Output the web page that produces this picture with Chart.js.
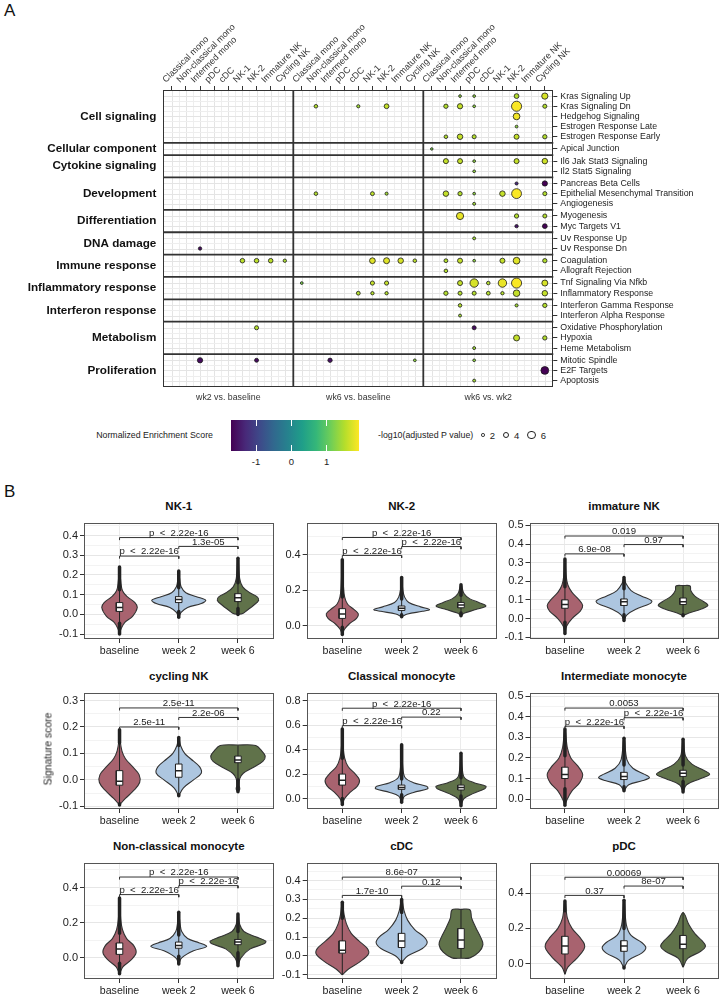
<!DOCTYPE html>
<html>
<head>
<meta charset="utf-8">
<script src="https://cdn.jsdelivr.net/npm/chart.js@4.4.1/dist/chart.umd.min.js"></script>
<style>
  body { margin: 0; background: #fff; }
  #fig { position: relative; width: 720px; height: 999px; overflow: hidden; background: #fff;
         font-family: 'Liberation Sans', Arial, Helvetica, sans-serif; color: #111; }
  canvas { position: absolute; }
  .tag { position: absolute; left: 4px; font-size: 17px; }
  .ttl { position: absolute; font-weight: bold; font-size: 11.5px; transform: translateX(-50%); white-space: nowrap; }
  .lg { position: absolute; font-size: 8.8px; color: #222; white-space: nowrap; }
</style>
</head>
<body>
<div id="fig">
  <div class="tag" style="top:1px">A</div>
  <div class="tag" style="top:482px">B</div>
  <canvas id="panelA" width="720" height="410" style="left:0;top:0"></canvas>
  <div id="legendA"></div>
</div>
<script>
// ---------------- panel A data ----------------
const comparisons = ['wk2 vs. baseline', 'wk6 vs. baseline', 'wk6 vs. wk2'];
const cellTypes = ['Classical mono', 'Non-classical mono', 'Intermed mono', 'pDC', 'cDC',
                   'NK-1', 'NK-2', 'Immature NK', 'Cycling NK'];
const categories = ['Cell signaling', 'Cellular component', 'Cytokine signaling', 'Development',
                    'Differentiation', 'DNA damage', 'Immune response', 'Inflammatory response',
                    'Interferon response', 'Metabolism', 'Proliferation'];
const pathways = [
  ['Kras Signaling Up', 'Kras Signaling Dn', 'Hedgehog Signaling', 'Estrogen Response Late', 'Estrogen Response Early'],
  ['Apical Junction'],
  ['Il6 Jak Stat3 Signaling', 'Il2 Stat5 Signaling'],
  ['Pancreas Beta Cells', 'Epithelial Mesenchymal Transition', 'Angiogenesis'],
  ['Myogenesis', 'Myc Targets V1'],
  ['Uv Response Up', 'Uv Response Dn'],
  ['Coagulation', 'Allograft Rejection'],
  ['Tnf Signaling Via Nfkb', 'Inflammatory Response'],
  ['Interferon Gamma Response', 'Interferon Alpha Response'],
  ['Oxidative Phosphorylation', 'Hypoxia', 'Heme Metabolism'],
  ['Mitotic Spindle', 'E2F Targets', 'Apoptosis']
];

// [cell type, pathway, NES, -log10(adj p)]
const wk2VsBase = [
  ['Intermed mono', 'Uv Response Dn', -1.6, 1.8],
  ['NK-1', 'Coagulation', 1.55, 2.8],
  ['NK-2', 'Coagulation', 1.55, 2.8],
  ['Immature NK', 'Coagulation', 1.55, 2.8],
  ['Cycling NK', 'Coagulation', 1.45, 1.8],
  ['NK-2', 'Oxidative Phosphorylation', 1.5, 2.4],
  ['Intermed mono', 'Mitotic Spindle', -1.6, 3.4],
  ['NK-2', 'Mitotic Spindle', -1.6, 2.3]
];
const wk6VsBase = [
  ['Non-classical mono', 'Kras Signaling Dn', 1.5, 2.0],
  ['cDC', 'Kras Signaling Dn', 1.4, 1.7],
  ['NK-2', 'Kras Signaling Dn', 1.6, 3.0],
  ['Non-classical mono', 'Epithelial Mesenchymal Transition', 1.5, 2.0],
  ['NK-1', 'Epithelial Mesenchymal Transition', 1.55, 2.3],
  ['NK-2', 'Epithelial Mesenchymal Transition', 1.4, 1.6],
  ['NK-1', 'Coagulation', 1.75, 3.8],
  ['NK-2', 'Coagulation', 1.75, 4.0],
  ['Immature NK', 'Coagulation', 1.7, 3.6],
  ['Cycling NK', 'Coagulation', 1.55, 2.0],
  ['Classical mono', 'Tnf Signaling Via Nfkb', 1.2, 1.3],
  ['NK-1', 'Tnf Signaling Via Nfkb', 1.6, 2.5],
  ['NK-2', 'Tnf Signaling Via Nfkb', 1.6, 2.5],
  ['cDC', 'Inflammatory Response', 1.5, 2.2],
  ['NK-1', 'Inflammatory Response', 1.5, 1.8],
  ['NK-2', 'Inflammatory Response', 1.5, 1.8],
  ['Intermed mono', 'Mitotic Spindle', -1.55, 2.6],
  ['Cycling NK', 'Mitotic Spindle', 1.3, 1.3]
];
const wk6VsWk2 = [
  ['Intermed mono', 'Kras Signaling Up', 1.3, 1.3],
  ['pDC', 'Kras Signaling Up', 1.3, 1.3],
  ['NK-2', 'Kras Signaling Up', 1.5, 3.0],
  ['Cycling NK', 'Kras Signaling Up', 1.7, 4.2],
  ['Non-classical mono', 'Kras Signaling Dn', 1.5, 2.6],
  ['Intermed mono', 'Kras Signaling Dn', 1.6, 3.4],
  ['pDC', 'Kras Signaling Dn', 1.3, 1.3],
  ['NK-2', 'Kras Signaling Dn', 1.9, 7.4],
  ['Cycling NK', 'Kras Signaling Dn', 1.5, 2.4],
  ['NK-2', 'Hedgehog Signaling', 1.85, 4.6],
  ['NK-2', 'Estrogen Response Late', 1.3, 1.3],
  ['Non-classical mono', 'Estrogen Response Early', 1.5, 2.0],
  ['Intermed mono', 'Estrogen Response Early', 1.6, 3.6],
  ['pDC', 'Estrogen Response Early', 1.5, 2.4],
  ['NK-2', 'Estrogen Response Early', 1.6, 3.2],
  ['Cycling NK', 'Estrogen Response Early', 1.5, 2.6],
  ['Classical mono', 'Apical Junction', 1.2, 1.1],
  ['Non-classical mono', 'Il6 Jak Stat3 Signaling', 1.6, 3.2],
  ['Intermed mono', 'Il6 Jak Stat3 Signaling', 1.6, 3.2],
  ['pDC', 'Il6 Jak Stat3 Signaling', 1.3, 1.3],
  ['NK-2', 'Il6 Jak Stat3 Signaling', 1.6, 3.2],
  ['Cycling NK', 'Il6 Jak Stat3 Signaling', 1.65, 3.6],
  ['pDC', 'Il2 Stat5 Signaling', 1.3, 1.3],
  ['NK-2', 'Pancreas Beta Cells', -1.3, 1.6],
  ['Cycling NK', 'Pancreas Beta Cells', -1.75, 3.4],
  ['Non-classical mono', 'Epithelial Mesenchymal Transition', 1.6, 3.6],
  ['Intermed mono', 'Epithelial Mesenchymal Transition', 1.5, 2.6],
  ['pDC', 'Epithelial Mesenchymal Transition', 1.3, 1.3],
  ['NK-1', 'Epithelial Mesenchymal Transition', 1.6, 3.6],
  ['NK-2', 'Epithelial Mesenchymal Transition', 1.9, 7.2],
  ['Cycling NK', 'Epithelial Mesenchymal Transition', 1.5, 2.4],
  ['pDC', 'Angiogenesis', 1.4, 1.5],
  ['Intermed mono', 'Myogenesis', 1.8, 5.0],
  ['NK-2', 'Myogenesis', 1.5, 2.6],
  ['Cycling NK', 'Myogenesis', 1.5, 2.4],
  ['NK-2', 'Myc Targets V1', -1.5, 1.8],
  ['Cycling NK', 'Myc Targets V1', -1.7, 3.0],
  ['pDC', 'Uv Response Up', 1.4, 1.5],
  ['Non-classical mono', 'Coagulation', 1.5, 2.2],
  ['Intermed mono', 'Coagulation', 1.6, 3.2],
  ['pDC', 'Coagulation', 1.3, 1.3],
  ['NK-1', 'Coagulation', 1.6, 3.2],
  ['NK-2', 'Coagulation', 1.75, 4.6],
  ['Cycling NK', 'Coagulation', 1.5, 2.6],
  ['Non-classical mono', 'Allograft Rejection', 1.5, 2.0],
  ['Intermed mono', 'Tnf Signaling Via Nfkb', 1.6, 3.2],
  ['pDC', 'Tnf Signaling Via Nfkb', 1.7, 6.0],
  ['cDC', 'Tnf Signaling Via Nfkb', 1.5, 2.0],
  ['NK-1', 'Tnf Signaling Via Nfkb', 1.8, 6.0],
  ['NK-2', 'Tnf Signaling Via Nfkb', 1.9, 7.4],
  ['Cycling NK', 'Tnf Signaling Via Nfkb', 1.7, 4.0],
  ['Non-classical mono', 'Inflammatory Response', 1.5, 2.6],
  ['Intermed mono', 'Inflammatory Response', 1.5, 2.4],
  ['pDC', 'Inflammatory Response', 1.5, 2.4],
  ['cDC', 'Inflammatory Response', 1.5, 2.2],
  ['NK-1', 'Inflammatory Response', 1.5, 1.8],
  ['NK-2', 'Inflammatory Response', 1.6, 4.5],
  ['Cycling NK', 'Inflammatory Response', 1.6, 3.6],
  ['Intermed mono', 'Interferon Gamma Response', 1.5, 2.0],
  ['NK-2', 'Interferon Gamma Response', 1.4, 1.6],
  ['Cycling NK', 'Interferon Gamma Response', 1.5, 2.6],
  ['Intermed mono', 'Interferon Alpha Response', 1.4, 1.5],
  ['pDC', 'Oxidative Phosphorylation', -1.6, 2.4],
  ['NK-2', 'Hypoxia', 1.6, 4.0],
  ['Cycling NK', 'Hypoxia', 1.5, 2.6],
  ['pDC', 'Heme Metabolism', 1.4, 1.5],
  ['pDC', 'Mitotic Spindle', 1.3, 1.3],
  ['Cycling NK', 'E2F Targets', -1.75, 5.5],
  ['pDC', 'Apoptosis', 1.4, 1.5]
];
const nesLimits = [-1.71, 1.92];
const nesBreaks = [-1, 0, 1];
const pBreaks = [2, 4, 6];

// ---------------- panel B data ----------------
const timepoints = ['baseline', 'week 2', 'week 6'];
const panelTitles = ['NK-1', 'NK-2', 'immature NK', 'cycling NK', 'Classical monocyte',
                     'Intermediate monocyte', 'Non-classical monocyte', 'cDC', 'pDC'];
const yLimits = [[-0.125, 0.466], [-0.076, 0.58], [-0.11, 0.515], [-0.11, 0.33], [-0.086, 0.868],
                 [-0.048, 0.517], [-0.12, 0.542], [-0.122, 0.495], [-0.087, 0.573]];
const yTickValues = [[-0.1, 0, 0.1, 0.2, 0.3, 0.4], [0, 0.2, 0.4], [-0.1, 0, 0.1, 0.2, 0.3, 0.4, 0.5],
                     [-0.1, 0, 0.1, 0.2, 0.3], [0, 0.2, 0.4, 0.6, 0.8], [0, 0.1, 0.2, 0.3, 0.4, 0.5],
                     [0, 0.2, 0.4], [-0.1, 0, 0.1, 0.2, 0.3, 0.4], [0, 0.2, 0.4]];
// violin outline: [score, half width] from bottom to top; box: [q1, median, q3];
// spread: [min, lower whisker, upper whisker, max]; tests: [label, bracket height] for b-w2, w2-w6, b-w6
const nk1Violins = [
  [[-0.10, 0], [-0.07, 0.03], [-0.04, 0.09], [-0.01, 0.22], [0.035, 0.3], [0.06, 0.26], [0.09, 0.13], [0.12, 0.05], [0.17, 0.02], [0.24, 0]],
  [[-0.015, 0], [0.01, 0.04], [0.035, 0.15], [0.055, 0.38], [0.072, 0.455], [0.09, 0.3], [0.11, 0.12], [0.14, 0.04], [0.18, 0.015], [0.22, 0]],
  [[0.0, 0], [0.004, 0.08], [0.02, 0.15], [0.045, 0.26], [0.072, 0.35], [0.09, 0.32], [0.11, 0.2], [0.14, 0.08], [0.18, 0.03], [0.285, 0]]
];
const nk1Boxes = [[0.015, 0.035, 0.06], [0.06, 0.075, 0.09], [0.065, 0.085, 0.105]];
const nk1Spread = [[-0.1, -0.045, 0.125, 0.24], [-0.015, 0.015, 0.135, 0.22], [0.0, 0.03, 0.16, 0.285]];
const nk1Tests = [['p  <  2.22e-16', 0.296], ['1.3e-05', 0.345], ['p  <  2.22e-16', 0.39]];

const nk2Violins = [
  [[-0.05, 0], [-0.02, 0.04], [0.01, 0.12], [0.04, 0.24], [0.065, 0.27], [0.09, 0.2], [0.12, 0.09], [0.16, 0.04], [0.22, 0.02], [0.37, 0]],
  [[0.05, 0], [0.065, 0.1], [0.08, 0.35], [0.09, 0.47], [0.105, 0.32], [0.13, 0.12], [0.16, 0.05], [0.2, 0.02], [0.27, 0]],
  [[0.055, 0], [0.07, 0.06], [0.09, 0.25], [0.11, 0.42], [0.13, 0.3], [0.15, 0.15], [0.18, 0.05], [0.23, 0]]
];
const nk2Boxes = [[0.04, 0.065, 0.095], [0.085, 0.097, 0.11], [0.1, 0.115, 0.13]];
const nk2Spread = [[-0.05, -0.01, 0.16, 0.37], [0.05, 0.06, 0.15, 0.27], [0.055, 0.07, 0.17, 0.23]];
const nk2Tests = [['p  <  2.22e-16', 0.395], ['p  <  2.22e-16', 0.445], ['p  <  2.22e-16', 0.496]];

const immNkViolins = [
  [[-0.08, 0], [-0.04, 0.03], [0.0, 0.12], [0.04, 0.26], [0.07, 0.3], [0.1, 0.24], [0.14, 0.12], [0.18, 0.05], [0.23, 0.02], [0.32, 0]],
  [[-0.01, 0], [0.02, 0.05], [0.05, 0.2], [0.08, 0.44], [0.095, 0.47], [0.12, 0.3], [0.15, 0.12], [0.19, 0.03], [0.22, 0]],
  [[0.015, 0], [0.03, 0.1], [0.05, 0.3], [0.07, 0.42], [0.09, 0.35], [0.12, 0.2], [0.15, 0.13], [0.175, 0.12], [0.177, 0]]
];
const immNkBoxes = [[0.055, 0.075, 0.1], [0.07, 0.09, 0.105], [0.075, 0.09, 0.11]];
const immNkSpread = [[-0.08, -0.02, 0.17, 0.32], [-0.01, 0.02, 0.16, 0.22], [0.015, 0.02, 0.175, 0.175]];
const immNkTests = [['6.9e-08', 0.347], ['0.97', 0.397], ['0.019', 0.443]];

const cycNkViolins = [
  [[-0.095, 0], [-0.07, 0.1], [-0.04, 0.24], [-0.01, 0.34], [0.02, 0.33], [0.05, 0.22], [0.08, 0.1], [0.11, 0.04], [0.15, 0.01], [0.19, 0]],
  [[-0.06, 0], [-0.03, 0.08], [0.0, 0.25], [0.025, 0.38], [0.05, 0.35], [0.08, 0.2], [0.1, 0.1], [0.13, 0.03], [0.16, 0]],
  [[-0.045, 0], [-0.035, 0.03], [-0.02, 0.02], [0.005, 0.03], [0.025, 0.09], [0.045, 0.24], [0.07, 0.42], [0.09, 0.46], [0.11, 0.4], [0.13, 0.3], [0.132, 0]]
];
const cycNkBoxes = [[-0.02, -0.005, 0.035], [0.01, 0.035, 0.06], [0.065, 0.075, 0.09]];
const cycNkSpread = [[-0.095, -0.09, 0.14, 0.19], [-0.06, -0.055, 0.13, 0.16], [-0.045, 0.0, 0.13, 0.13]];
const cycNkTests = [['2.5e-11', 0.2], ['2.2e-06', 0.236], ['2.5e-11', 0.272]];

const clMonoViolins = [
  [[-0.05, 0], [0.0, 0.04], [0.05, 0.13], [0.1, 0.25], [0.15, 0.29], [0.2, 0.22], [0.26, 0.1], [0.33, 0.04], [0.45, 0.01], [0.57, 0]],
  [[-0.03, 0], [0.02, 0.05], [0.05, 0.2], [0.08, 0.44], [0.1, 0.42], [0.13, 0.2], [0.17, 0.06], [0.25, 0.02], [0.44, 0]],
  [[-0.06, 0], [0.0, 0.05], [0.04, 0.2], [0.08, 0.4], [0.1, 0.42], [0.13, 0.22], [0.17, 0.06], [0.25, 0.02], [0.37, 0]]
];
const clMonoBoxes = [[0.11, 0.15, 0.2], [0.075, 0.09, 0.11], [0.07, 0.09, 0.11]];
const clMonoSpread = [[-0.05, 0.0, 0.33, 0.57], [-0.03, 0.03, 0.16, 0.44], [-0.06, 0.02, 0.17, 0.37]];
const clMonoTests = [['p  <  2.22e-16', 0.597], ['0.22', 0.667], ['p  <  2.22e-16', 0.74]];

const intMonoViolins = [
  [[-0.03, 0], [0.0, 0.04], [0.04, 0.12], [0.08, 0.25], [0.12, 0.3], [0.16, 0.22], [0.2, 0.1], [0.25, 0.04], [0.34, 0]],
  [[0.04, 0], [0.07, 0.08], [0.09, 0.32], [0.105, 0.43], [0.12, 0.35], [0.15, 0.15], [0.19, 0.05], [0.295, 0]],
  [[0.035, 0], [0.07, 0.06], [0.1, 0.3], [0.12, 0.45], [0.14, 0.35], [0.17, 0.15], [0.21, 0.04], [0.29, 0]]
];
const intMonoBoxes = [[0.1, 0.12, 0.155], [0.095, 0.11, 0.13], [0.11, 0.125, 0.14]];
const intMonoSpread = [[-0.03, 0.05, 0.21, 0.34], [0.04, 0.06, 0.165, 0.295], [0.035, 0.085, 0.165, 0.29]];
const intMonoTests = [['p  <  2.22e-16', 0.354], ['p  <  2.22e-16', 0.395], ['0.0053', 0.442]];

const ncMonoViolins = [
  [[-0.09, 0], [-0.05, 0.06], [-0.01, 0.2], [0.03, 0.28], [0.07, 0.24], [0.11, 0.12], [0.16, 0.05], [0.22, 0.02], [0.34, 0]],
  [[-0.035, 0], [0.0, 0.05], [0.04, 0.25], [0.065, 0.47], [0.085, 0.35], [0.11, 0.15], [0.15, 0.05], [0.2, 0.02], [0.26, 0]],
  [[-0.045, 0], [0.0, 0.05], [0.05, 0.2], [0.08, 0.44], [0.095, 0.47], [0.12, 0.3], [0.15, 0.1], [0.19, 0.03], [0.25, 0]]
];
const ncMonoBoxes = [[0.02, 0.05, 0.085], [0.055, 0.07, 0.09], [0.075, 0.09, 0.105]];
const ncMonoSpread = [[-0.09, -0.03, 0.14, 0.34], [-0.035, 0.01, 0.13, 0.26], [-0.045, 0.03, 0.15, 0.25]];
const ncMonoTests = [['p  <  2.22e-16', 0.36], ['p  <  2.22e-16', 0.411], ['p  <  2.22e-16', 0.46]];

const cdcViolins = [
  [[-0.1, 0], [-0.07, 0.1], [-0.03, 0.3], [0.01, 0.44], [0.04, 0.42], [0.08, 0.28], [0.12, 0.15], [0.17, 0.07], [0.22, 0.03], [0.285, 0]],
  [[-0.035, 0], [0.0, 0.1], [0.04, 0.35], [0.07, 0.43], [0.1, 0.38], [0.14, 0.22], [0.19, 0.1], [0.24, 0.04], [0.3, 0]],
  [[-0.012, 0], [-0.01, 0.15], [0.02, 0.3], [0.06, 0.37], [0.1, 0.33], [0.15, 0.25], [0.2, 0.18], [0.245, 0.15], [0.247, 0]]
];
const cdcBoxes = [[0.015, 0.03, 0.08], [0.045, 0.08, 0.12], [0.04, 0.085, 0.145]];
const cdcSpread = [[-0.1, -0.1, 0.2, 0.285], [-0.035, -0.03, 0.23, 0.3], [-0.01, -0.01, 0.245, 0.245]];
const cdcTests = [['1.7e-10', 0.321], ['0.12', 0.37], ['8.6e-07', 0.418]];

const pdcViolins = [
  [[-0.06, 0], [-0.02, 0.05], [0.03, 0.2], [0.08, 0.32], [0.11, 0.33], [0.15, 0.25], [0.2, 0.12], [0.26, 0.04], [0.355, 0]],
  [[-0.025, 0], [0.02, 0.08], [0.06, 0.3], [0.09, 0.37], [0.12, 0.3], [0.16, 0.12], [0.22, 0.04], [0.36, 0]],
  [[-0.02, 0], [0.03, 0.08], [0.07, 0.3], [0.1, 0.38], [0.13, 0.32], [0.17, 0.2], [0.22, 0.1], [0.29, 0]]
];
const pdcBoxes = [[0.055, 0.1, 0.155], [0.07, 0.1, 0.13], [0.085, 0.11, 0.16]];
const pdcSpread = [[-0.06, -0.06, 0.3, 0.355], [-0.025, -0.02, 0.2, 0.36], [-0.02, -0.02, 0.29, 0.29]];
const pdcTests = [['0.37', 0.387], ['8e-07', 0.44], ['0.00069', 0.49]];

// ---------------- helpers ----------------
Chart.defaults.font.family = "'Liberation Sans', Arial, Helvetica, sans-serif";
Chart.defaults.color = '#222';

const viridisStops = ['#440154', '#482878', '#3e4989', '#31688e', '#26828e', '#1f9e89', '#35b779', '#6ece58', '#b5de2b', '#fde725'];
function hexRgb(h) { return [1, 3, 5].map(i => parseInt(h.substr(i, 2), 16)); }
function viridis(v) {
  let t = (v - nesLimits[0]) / (nesLimits[1] - nesLimits[0]);
  t = Math.max(0, Math.min(1, t));
  const p = t * (viridisStops.length - 1), i = Math.min(Math.floor(p), viridisStops.length - 2), f = p - i;
  const a = hexRgb(viridisStops[i]), b = hexRgb(viridisStops[i + 1]);
  return 'rgb(' + a.map((c, k) => Math.round(c + (b[k] - c) * f)).join(',') + ')';
}
const bubbleRadius = lp => 0.6 + 0.6 * lp;

// ---------------- panel A ----------------
const groupWidth = cellTypes.length + 0.2;
const xMax = groupWidth * comparisons.length;
const colX = (g, c) => g * groupWidth + 0.6 + c;
const facetStart = [];
const rowPos = {};
let acc = 0;
pathways.forEach((list, k) => {
  facetStart.push(acc);
  list.forEach((p, j) => { rowPos[p] = acc + 0.6 + j; });
  acc += list.length + 0.2;
});
const yMax = acc;
const rowNames = pathways.flat();
const colTicks = [];
comparisons.forEach((c, g) => cellTypes.forEach((t, i) => colTicks.push(colX(g, i))));

const bubbles = [];
[wk2VsBase, wk6VsBase, wk6VsWk2].forEach((set, g) => {
  set.forEach(([cell, path, nes, lp]) => {
    bubbles.push({ x: colX(g, cellTypes.indexOf(cell)), y: rowPos[path], r: bubbleRadius(lp), nes: nes });
  });
});

const facetFrame = {
  id: 'facetFrame',
  beforeDatasetsDraw(chart) {
    const { ctx, chartArea: a, scales: { x, y } } = chart;
    ctx.save();
    ctx.lineWidth = 1;
    const vline = (px, col) => { ctx.strokeStyle = col; ctx.beginPath(); ctx.moveTo(Math.round(px) + 0.5, a.top); ctx.lineTo(Math.round(px) + 0.5, a.bottom); ctx.stroke(); };
    const hline = (py, col) => { ctx.strokeStyle = col; ctx.beginPath(); ctx.moveTo(a.left, Math.round(py) + 0.5); ctx.lineTo(a.right, Math.round(py) + 0.5); ctx.stroke(); };
    comparisons.forEach((c, g) => cellTypes.forEach((t, i) => {
      vline(x.getPixelForValue(colX(g, i)), '#e4e4e4');
      if (i < cellTypes.length - 1) vline(x.getPixelForValue(colX(g, i) + 0.5), '#eeeeee');
    }));
    pathways.forEach((list, k) => list.forEach((p, j) => {
      hline(y.getPixelForValue(rowPos[p]), '#e4e4e4');
      if (j < list.length - 1) hline(y.getPixelForValue(rowPos[p] + 0.5), '#eeeeee');
    }));
    ctx.restore();
  },
  afterDatasetsDraw(chart) {
    const { ctx, chartArea: a, scales: { x, y } } = chart;
    ctx.save();
    ctx.strokeStyle = '#333';
    ctx.lineWidth = 1.8;
    for (let g = 1; g < comparisons.length; g++) {
      const px = x.getPixelForValue(g * groupWidth);
      ctx.beginPath(); ctx.moveTo(px, a.top); ctx.lineTo(px, a.bottom); ctx.stroke();
    }
    for (let k = 1; k < facetStart.length; k++) {
      const py = y.getPixelForValue(facetStart[k]);
      ctx.beginPath(); ctx.moveTo(a.left, py); ctx.lineTo(a.right, py); ctx.stroke();
    }
    ctx.lineWidth = 1;
    ctx.strokeRect(Math.round(a.left) + 0.5, Math.round(a.top) + 0.5, Math.round(a.right - a.left) - 1, Math.round(a.bottom - a.top) - 1);
    ctx.restore();
  }
};

new Chart(document.getElementById('panelA'), {
  type: 'bubble',
  data: {
    datasets: [{
      data: bubbles,
      backgroundColor: c => viridis(c.raw.nes),
      borderColor: '#1a1a1a',
      borderWidth: 0.8,
      hoverBorderWidth: 0.8
    }]
  },
  options: {
    devicePixelRatio: 1,
    responsive: false,
    animation: false,
    layout: { padding: 0 },
    plugins: { legend: { display: false }, tooltip: { enabled: false } },
    scales: {
      x: {
        type: 'linear', position: 'top', min: 0, max: xMax, bounds: 'data',
        afterBuildTicks: s => { s.ticks = colTicks.map(v => ({ value: v })); },
        ticks: { autoSkip: false, minRotation: 45, maxRotation: 45, padding: 1, color: '#333',
                 font: { size: 9 }, callback: (v, i) => cellTypes[i % cellTypes.length] },
        grid: { drawOnChartArea: false, tickLength: 4, tickColor: '#333' },
        border: { display: false },
        afterFit: s => { s.height = 90; }
      },
      xb: {
        type: 'linear', axis: 'x', position: 'bottom', min: 0, max: xMax, bounds: 'data',
        afterBuildTicks: s => { s.ticks = comparisons.map((c, g) => ({ value: g * groupWidth + groupWidth / 2 })); },
        ticks: { autoSkip: false, maxRotation: 0, padding: 6, color: '#333', font: { size: 8.8 },
                 callback: (v, i) => comparisons[i] },
        grid: { display: false, drawTicks: false },
        border: { display: false },
        afterFit: s => { s.height = 23.3; }
      },
      y: {
        type: 'linear', position: 'right', reverse: true, min: 0, max: yMax, bounds: 'data',
        afterBuildTicks: s => { s.ticks = rowNames.map(p => ({ value: rowPos[p] })); },
        ticks: { autoSkip: false, padding: 3, color: '#222', font: { size: 8.8 }, callback: (v, i) => rowNames[i] },
        grid: { drawOnChartArea: false, tickLength: 4, tickColor: '#333' },
        border: { display: false },
        afterFit: s => { s.width = 166.7; }
      },
      yl: {
        type: 'linear', axis: 'y', position: 'left', reverse: true, min: 0, max: yMax, bounds: 'data',
        afterBuildTicks: s => { s.ticks = categories.map((c, k) => ({ value: facetStart[k] + (pathways[k].length + 0.2) / 2 })); },
        ticks: { autoSkip: false, padding: 7, color: '#111', font: { size: 11.7, weight: 'bold' },
                 callback: (v, i) => categories[i] },
        grid: { display: false, drawTicks: false },
        border: { display: false },
        afterFit: s => { s.width = 163.3; }
      }
    }
  },
  plugins: [facetFrame]
});

// legend for panel A (colour bar + size keys)
(function () {
  const lg = document.getElementById('legendA');
  const barLeft = 231, barTop = 420, barW = 128, barH = 31;
  const toX = v => (v - nesLimits[0]) / (nesLimits[1] - nesLimits[0]) * barW;
  let html = '<div class="lg" style="left:88px;top:' + (barTop + barH / 2 - 6) + 'px;width:125px;text-align:right">Normalized Enrichment Score</div>';
  html += '<div style="position:absolute;left:' + barLeft + 'px;top:' + barTop + 'px;width:' + barW + 'px;height:' + barH +
          'px;background:linear-gradient(to right,' + viridisStops.join(',') + ')"></div>';
  nesBreaks.forEach(b => {
    const x = barLeft + toX(b);
    html += '<div style="position:absolute;left:' + (x - 0.5) + 'px;top:' + barTop + 'px;width:1px;height:6px;background:#fff"></div>';
    html += '<div style="position:absolute;left:' + (x - 0.5) + 'px;top:' + (barTop + barH - 6) + 'px;width:1px;height:6px;background:#fff"></div>';
    html += '<div class="lg" style="left:' + (x - 10) + 'px;top:' + (barTop + barH + 5) + 'px;width:20px;text-align:center;font-size:9.5px">' + b + '</div>';
  });
  html += '<div class="lg" style="left:378px;top:' + (barTop + barH / 2 - 6) + 'px;display:flex;align-items:center;gap:5px">' +
          '<span>-log10(adjusted P value)</span>';
  pBreaks.forEach(p => {
    const d = 2 * bubbleRadius(p);
    html += '<span style="display:inline-block;margin-left:3px;width:' + d + 'px;height:' + d + 'px;border:1px solid #222;border-radius:50%;box-sizing:border-box"></span><span style="font-size:9.5px">' + p + '</span>';
  });
  html += '</div>';
  lg.innerHTML = html;
})();

// ---------------- panel B ----------------
const fillColors = ['#a8636f', '#adc6e0', '#60724a'];
const panelViolins = [nk1Violins, nk2Violins, immNkViolins, cycNkViolins, clMonoViolins, intMonoViolins, ncMonoViolins, cdcViolins, pdcViolins];
const panelBoxes = [nk1Boxes, nk2Boxes, immNkBoxes, cycNkBoxes, clMonoBoxes, intMonoBoxes, ncMonoBoxes, cdcBoxes, pdcBoxes];
const panelSpread = [nk1Spread, nk2Spread, immNkSpread, cycNkSpread, clMonoSpread, intMonoSpread, ncMonoSpread, cdcSpread, pdcSpread];
const panelTests = [nk1Tests, nk2Tests, immNkTests, cycNkTests, clMonoTests, intMonoTests, ncMonoTests, cdcTests, pdcTests];
const testPairs = [[1, 2], [2, 3], [1, 3]];

const plotLeft = [84, 306.7, 529.5], plotRight = [273.5, 496.6, 718.5];
const canvasLeft = [0, 276, 498], canvasRight = [276, 498, 720];
const rowTop = 518, rowStep = 170, plotH = 121.5, boxHalf = 0.055;

function violinPoints(center, prof) {
  const right = prof.map(([y, w]) => ({ x: center + w, y: y }));
  const left = prof.slice().reverse().map(([y, w]) => ({ x: center - w, y: y }));
  return right.concat(left.slice(1));
}

const panelFrame = {
  id: 'panelFrame',
  afterDraw(chart) {
    const { ctx, chartArea: a } = chart;
    ctx.save();
    ctx.strokeStyle = '#555';
    ctx.lineWidth = 1;
    ctx.strokeRect(Math.round(a.left) + 0.5, Math.round(a.top) + 0.5, Math.round(a.right - a.left) - 1, Math.round(a.bottom - a.top) - 1);
    ctx.restore();
  }
};

const fig = document.getElementById('fig');

panelTitles.forEach((title, idx) => {
  const col = idx % 3, row = Math.floor(idx / 3);
  const top = rowTop + rowStep * row - 4;
  const cv = document.createElement('canvas');
  cv.width = canvasRight[col] - canvasLeft[col];
  cv.height = plotH + 4 + 20;
  cv.style.left = canvasLeft[col] + 'px';
  cv.style.top = top + 'px';
  fig.appendChild(cv);

  const t = document.createElement('div');
  t.className = 'ttl';
  t.textContent = title;
  t.style.left = ((plotLeft[col] + plotRight[col]) / 2) + 'px';
  t.style.top = (rowTop + rowStep * row - 18) + 'px';
  fig.appendChild(t);

  const lim = yLimits[idx];
  const majors = yTickValues[idx];
  const step = majors[1] - majors[0];
  const minors = [majors[0] - step / 2].concat(majors.map(v => v + step / 2)).filter(v => v > lim[0] && v < lim[1]);
  const isMajor = v => majors.some(m => Math.abs(m - v) < 1e-9);
  const range = lim[1] - lim[0];

  const datasets = [];
  timepoints.forEach((tp, k) => {
    const c = k + 1;
    const [mn, wlo, whi, mx] = panelSpread[idx][k];
    const [q1, med, q3] = panelBoxes[idx][k];
    datasets.push({ data: violinPoints(c, panelViolins[idx][k]), fill: 'shape', backgroundColor: fillColors[k],
                    borderColor: '#333', borderWidth: 1.1, tension: 0.35, order: 5 });
    datasets.push({ data: [{ x: c, y: mn }, { x: c, y: mx }], borderColor: '#222', borderWidth: 1, order: 4 });
    if (wlo > mn) datasets.push({ data: [{ x: c, y: mn }, { x: c, y: wlo }], borderColor: '#222', borderWidth: 3.5, borderCapStyle: 'round', order: 3 });
    if (mx > whi) datasets.push({ data: [{ x: c, y: whi }, { x: c, y: mx }], borderColor: '#222', borderWidth: 3.5, borderCapStyle: 'round', order: 3 });
    datasets.push({ data: [{ x: c - boxHalf, y: q1 }, { x: c + boxHalf, y: q1 }, { x: c + boxHalf, y: q3 }, { x: c - boxHalf, y: q3 }, { x: c - boxHalf, y: q1 }],
                    fill: 'shape', backgroundColor: '#fff', borderColor: '#222', borderWidth: 1, order: 2 });
    datasets.push({ data: [{ x: c - boxHalf, y: med }, { x: c + boxHalf, y: med }], borderColor: '#222', borderWidth: 1.5, order: 1 });
  });
  const tip = 0.022 * range;
  panelTests[idx].forEach(([label, h], j) => {
    const [a, b] = testPairs[j];
    datasets.push({ data: [{ x: a, y: h - tip }, { x: a, y: h }, { x: b, y: h }, { x: b, y: h - tip }],
                    borderColor: '#333', borderWidth: 1, order: 0 });
  });

  const testLabels = {
    id: 'testLabels',
    afterDatasetsDraw(chart) {
      const { ctx, scales: { x, y } } = chart;
      ctx.save();
      ctx.fillStyle = '#222';
      ctx.font = "9.6px 'Liberation Sans', Arial, sans-serif";
      ctx.textAlign = 'center';
      ctx.textBaseline = 'bottom';
      panelTests[idx].forEach(([label, h], j) => {
        const [a, b] = testPairs[j];
        ctx.fillText(label, x.getPixelForValue((a + b) / 2), y.getPixelForValue(h) + 0.5);
      });
      ctx.restore();
    }
  };

  new Chart(cv, {
    type: 'line',
    data: { datasets: datasets },
    options: {
      devicePixelRatio: 1,
      responsive: false,
      animation: false,
      layout: { padding: { top: 4, right: canvasRight[col] - plotRight[col], left: 0, bottom: 0 } },
      elements: { point: { radius: 0, hoverRadius: 0 }, line: { tension: 0 } },
      plugins: { legend: { display: false }, tooltip: { enabled: false } },
      scales: {
        x: {
          type: 'linear', min: 0.4, max: 3.6, bounds: 'data',
          afterBuildTicks: s => { s.ticks = timepoints.map((p, i) => ({ value: i + 1 })); },
          ticks: { autoSkip: false, maxRotation: 0, padding: 2, color: '#222', font: { size: 10.6 },
                   callback: v => timepoints[Math.round(v) - 1] },
          grid: { color: '#ebebeb', tickColor: '#333', tickLength: 4 },
          border: { display: false },
          afterFit: s => { s.height = 20; }
        },
        y: {
          type: 'linear', min: lim[0], max: lim[1], bounds: 'data',
          afterBuildTicks: s => { s.ticks = majors.concat(minors).map(v => ({ value: v })); },
          ticks: { autoSkip: false, padding: 2, color: '#222', font: { size: 11 },
                   callback: v => isMajor(v) ? v.toFixed(1) : '' },
          grid: { color: c => isMajor(c.tick.value) ? '#e6e6e6' : '#f3f3f3',
                  tickColor: c => isMajor(c.tick.value) ? '#333' : 'rgba(0,0,0,0)', tickLength: 4 },
          border: { display: false },
          afterFit: s => { s.width = plotLeft[col] - canvasLeft[col]; }
        }
      }
    },
    plugins: [panelFrame, testLabels]
  });
});

// shared y-axis title
const ylab = document.createElement('div');
ylab.textContent = 'Signature score';
ylab.style.cssText = 'position:absolute;font-size:10.4px;color:#222;white-space:nowrap;transform:translate(-50%,-50%) rotate(-90deg);left:48px;top:' +
                     (rowTop + rowStep + plotH / 2) + 'px';
fig.appendChild(ylab);
</script>
</body>
</html>
